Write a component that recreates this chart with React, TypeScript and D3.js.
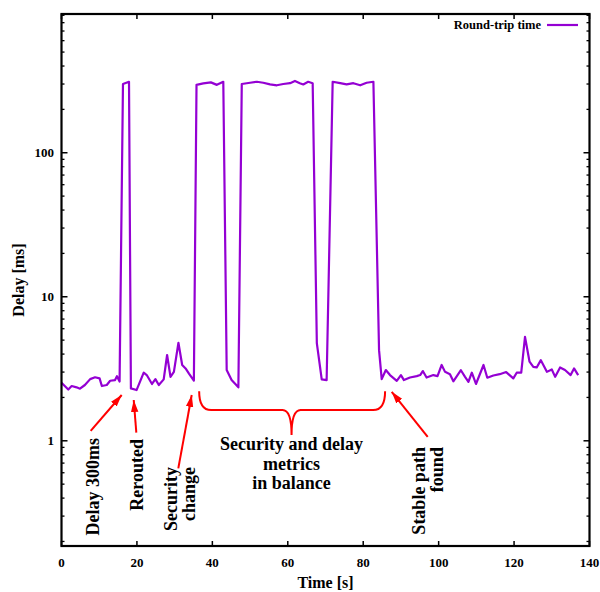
import React from "react";
import * as d3 from "d3";

const times = [0, 1.8, 2.7, 4, 4.9, 6.2, 7.6, 8.9, 10.1, 10.7, 12, 12.9, 14.2, 14.7, 15.4, 16.3, 17.9, 18.4, 19.9, 21.8, 22.6, 24, 24.9, 25.8, 27.1, 28, 28.9, 29.8, 31, 32, 32.9, 33.8, 35.1, 35.8, 37.6, 39.6, 41.2, 42.9, 43.8, 45.1, 46.9, 47.8, 50, 51.8, 53.5, 55.3, 57.1, 58.8, 60.6, 61.9, 63.2, 64.1, 65.4, 66.6, 67.7, 69, 70.3, 71.9, 73.9, 75.6, 77.4, 79.2, 80.9, 82.7, 84.2, 84.9, 86, 87.1, 88.9, 90, 90.8, 92.4, 94.2, 95.1, 95.8, 96.8, 98.6, 99.7, 100.8, 101.7, 103, 103.9, 105.9, 107, 107.9, 108.8, 109.9, 111.9, 112.9, 114.5, 116.2, 117.9, 119.8, 120.7, 121.9, 122.9, 124.1, 125.1, 126, 127.1, 128.7, 130, 130.9, 132.2, 133.5, 135, 135.9, 137];
const delays = [2.53, 2.27, 2.4, 2.35, 2.3, 2.44, 2.68, 2.76, 2.71, 2.4, 2.44, 2.61, 2.64, 2.81, 2.58, 300, 311, 2.31, 2.25, 2.97, 2.86, 2.48, 2.68, 2.44, 2.67, 3.94, 2.78, 3.01, 4.79, 3.36, 3.18, 2.93, 2.62, 296, 303, 308, 296, 311, 3.1, 2.64, 2.35, 300, 306, 311, 306, 298, 294, 300, 304, 315, 304, 298, 311, 304, 4.77, 2.67, 2.64, 311, 304, 298, 304, 294, 306, 311, 4.26, 2.68, 3.1, 2.86, 2.61, 2.86, 2.64, 2.75, 2.81, 2.86, 3.05, 2.75, 2.86, 2.81, 3.36, 3.01, 2.9, 2.59, 3.09, 2.78, 2.57, 2.97, 2.48, 3.36, 2.74, 2.84, 2.9, 3.0, 2.71, 2.97, 2.97, 5.27, 3.54, 3.26, 3.23, 3.63, 3.01, 3.13, 2.78, 3.23, 3.1, 2.86, 3.18, 2.86];

const xTicks = [0, 20, 40, 60, 80, 100, 120, 140];
const yTickLabels = [1, 10, 100];
const seriesName = "Round-trip time";
const xLabel = "Time [s]";
const yLabel = "Delay [ms]";

// annotation anchors, in data coordinates [time, delay]
const arrowTails = [[7.74, 1.17], [19.84, 1.14], [30.97, 0.643], [97.1, 1.066]];
const arrowTips = [[15.96, 2.08], [19.15, 1.92], [34.53, 2.08], [87.56, 2.19]];
const rotLabels = [
  { lines: ["Delay 300ms"], t: 8.28, v: 1.044 },
  { lines: ["Rerouted"], t: 19.94, v: 1.028 },
  { lines: ["Security", "change"], t: 31.3, v: 0.657 },
  { lines: ["Stable path", "found"], t: 97.06, v: 0.904 },
];
const braceSpan = [36.5, 85.8];
const braceMid = 61;
const braceLevels = [2.21, 1.634, 1.095];
const balanceLines = ["Security and delay", "metrics", "in balance"];

const W = 600, H = 592;
const L = 61.5, R = 589.5, T = 14, B = 546;
const FONT = "'Liberation Serif', 'Times New Roman', serif";
const PURPLE = "#9400D3";
const RED = "#ff0000";

export default function App() {
  const x = d3.scaleLinear().domain([0, 140]).range([L, R]);
  const y = d3.scaleLog().domain([0.186, 919]).range([B, T]);

  const line = d3.line<number>().x((_, i) => x(times[i])).y((d) => y(d));
  const path = line(delays) || "";

  const minorY: number[] = [];
  [0.1, 1, 10, 100].forEach((dec) => {
    for (let k = 2; k <= 9; k++) {
      const v = k * dec;
      if (v > 0.186 && v < 919) minorY.push(v);
    }
  });

  const bx0 = x(braceSpan[0]), bx1 = x(braceSpan[1]), bxm = x(braceMid);
  const byTop = y(braceLevels[0]), byH = y(braceLevels[1]), byTip = y(braceLevels[2]);
  const r = 12, rm = 9;
  const bracePath = `M${bx0},${byTop} Q${bx0},${byH} ${bx0 + r},${byH} L${bxm - rm},${byH} Q${bxm},${byH} ${bxm},${byTip} Q${bxm},${byH} ${bxm + rm},${byH} L${bx1 - r},${byH} Q${bx1},${byH} ${bx1},${byTop}`;

  return (
    <svg width={W} height={H} style={{ position: "absolute", left: 0, top: 0, background: "#fff" }} fontFamily={FONT}>
      <defs>
        <marker id="ah" viewBox="0 0 12 10" refX="12" refY="5" markerWidth="12" markerHeight="10" markerUnits="userSpaceOnUse" orient="auto">
          <path d="M0,1.3 L12,5 L0,8.7 Z" fill={RED} />
        </marker>
      </defs>
      <rect x={0} y={0} width={W} height={H} fill="#fff" />

      {/* ticks */}
      {xTicks.map((t) => (
        <g key={"xt" + t}>
          <line x1={x(t)} x2={x(t)} y1={B} y2={B - 5} stroke="#000" strokeWidth={1.5} />
          <line x1={x(t)} x2={x(t)} y1={T} y2={T + 5} stroke="#000" strokeWidth={1.5} />
          <text x={x(t)} y={B + 21} textAnchor="middle" fontSize={13} fontWeight="bold">{t}</text>
        </g>
      ))}
      {yTickLabels.map((v) => (
        <g key={"yt" + v}>
          <line x1={L} x2={L + 6} y1={y(v)} y2={y(v)} stroke="#000" strokeWidth={1.5} />
          <line x1={R} x2={R - 6} y1={y(v)} y2={y(v)} stroke="#000" strokeWidth={1.5} />
          <text x={54} y={y(v) + 4.5} textAnchor="end" fontSize={13} fontWeight="bold">{v}</text>
        </g>
      ))}
      {minorY.map((v) => (
        <g key={"ym" + v}>
          <line x1={L} x2={L + 3} y1={y(v)} y2={y(v)} stroke="#000" strokeWidth={1.3} />
          <line x1={R} x2={R - 3} y1={y(v)} y2={y(v)} stroke="#000" strokeWidth={1.3} />
        </g>
      ))}

      {/* data */}
      <path d={path} fill="none" stroke={PURPLE} strokeWidth={2.2} strokeLinejoin="round" />

      {/* border */}
      <rect x={L} y={T} width={R - L} height={B - T} fill="none" stroke="#000" strokeWidth={2.2} />

      {/* legend */}
      <text x={541} y={29} textAnchor="end" fontSize={12.5} fontWeight="bold">{seriesName}</text>
      <line x1={547} x2={578} y1={25} y2={25} stroke={PURPLE} strokeWidth={2.2} />

      {/* axis labels */}
      <text x={(L + R) / 2} y={588} textAnchor="middle" fontSize={16} fontWeight="bold">{xLabel}</text>
      <text transform={`translate(18,${280}) rotate(-90)`} textAnchor="middle" dy="0.35em" fontSize={16} fontWeight="bold">{yLabel}</text>

      {/* annotations */}
      {arrowTails.map((tl, i) => (
        <line key={"ar" + i} x1={x(tl[0])} y1={y(tl[1])} x2={x(arrowTips[i][0])} y2={y(arrowTips[i][1])} stroke={RED} strokeWidth={2} markerEnd="url(#ah)" />
      ))}
      {rotLabels.map((lb, i) => {
        const cx = x(lb.t), cy = y(lb.v);
        const n = lb.lines.length;
        return (
          <text key={"rl" + i} transform={`translate(${cx},${cy}) rotate(-90)`} textAnchor="end" fontSize={18} fontWeight="bold">
            {lb.lines.map((s, j) => (
              <tspan key={j} x={0} y={(j - (n - 1) / 2) * 18} dy="0.35em">{s}</tspan>
            ))}
          </text>
        );
      })}
      <path d={bracePath} fill="none" stroke={RED} strokeWidth={2} />
      <text textAnchor="middle" fontSize={18} fontWeight="bold">
        {balanceLines.map((s, j) => (
          <tspan key={j} x={bxm} y={byTip + 15 + j * 19.5}>{s}</tspan>
        ))}
      </text>
    </svg>
  );
}
